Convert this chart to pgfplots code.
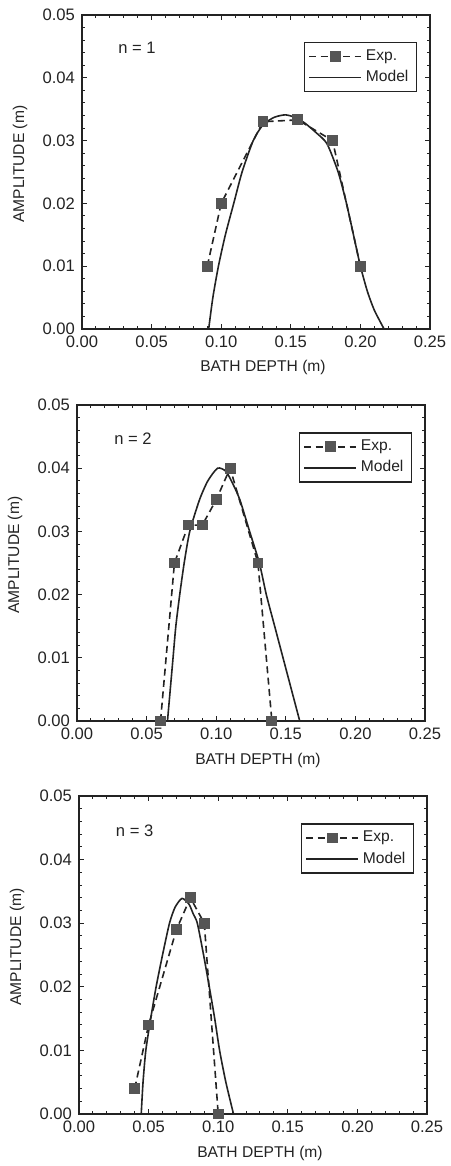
\documentclass[border=0pt]{standalone}
\usepackage{fontspec}
\setmainfont{Liberation Sans}
\usepackage{pgfplots}
\pgfplotsset{compat=1.18}

\definecolor{ink}{RGB}{35,35,35}
\definecolor{markgray}{RGB}{85,85,85}

% one panel style, 1 px of the reference = 0.5pt
\pgfplotsset{
  panel/.style={
    scale only axis,
    anchor=north west,
    width=174pt,
    xmin=0, xmax=0.25, ymin=0, ymax=0.05,
    xtick={0,0.05,...,0.25}, ytick={0,0.01,...,0.05},
    minor x tick num=4, minor y tick num=4,
    tick pos=both, tick align=inside,
    major tick length=2.6pt, minor tick length=1.6pt,
    axis line style={ink, line width=0.7pt},
    every tick/.style={ink, line width=0.5pt},
    scaled ticks=false,
    /pgf/number format/assume math mode=true,
    xticklabel style={/pgf/number format/.cd, fixed, fixed zerofill, precision=2},
    yticklabel style={/pgf/number format/.cd, fixed, fixed zerofill, precision=2},
    tick label style={font=\fontsize{8.3}{9}\selectfont, text=ink},
    xlabel={BATH DEPTH (m)}, ylabel={AMPLITUDE (m)},
    every axis x label/.style={at={(axis description cs:0.52,-0.124)}, anchor=center,
      font=\fontsize{7.8}{9}\selectfont, text=ink},
    every axis y label/.style={at={(axis description cs:-0.178,0.525)}, anchor=center, rotate=90,
      font=\fontsize{7.8}{9}\selectfont, text=ink},
    legend style={at={(axis description cs:0.963,0.914)}, anchor=north east,
      draw=ink, line width=0.7pt, font=\fontsize{7.8}{9}\selectfont, text=ink,
      inner xsep=2pt, inner ysep=1.5pt, row sep=-0.5pt},
    legend cell align=left,
    legend image code/.code={\draw[mark repeat=2,mark phase=2,#1] plot coordinates {(0pt,0pt) (13pt,0pt) (26pt,0pt)};},
  },
  exp/.style={ink, line width=0.8pt, dash pattern=on 3.5pt off 2.2pt,
    mark=square*, mark size=2.3pt, mark options={solid, fill=markgray, draw=markgray}},
  model/.style={ink, line width=0.8pt, smooth, tension=0.4, no marks},
}

\begin{document}
\begin{tikzpicture}

% ---------- n = 1 ----------
\begin{axis}[panel, height=157pt, at={(41pt,-7.5pt)}]
\addplot[exp] coordinates {
  (0.09,0.010) (0.10,0.020) (0.13,0.033) (0.155,0.0333) (0.18,0.030) (0.20,0.010)
};
\addlegendentry{Exp.}
\addplot[model] coordinates {
  (0.091,0) (0.094,0.005) (0.098,0.010) (0.103,0.015) (0.109,0.020) (0.115,0.025)
  (0.123,0.030) (0.130,0.0325) (0.138,0.0337) (0.146,0.0341) (0.153,0.0337)
  (0.160,0.0328) (0.168,0.0313) (0.176,0.0295) (0.184,0.025) (0.190,0.020)
  (0.196,0.014) (0.200,0.010) (0.205,0.006) (0.210,0.003) (0.217,0)
};
\addlegendentry{Model}
\node[font=\fontsize{8.3}{9}\selectfont, text=ink] at (rel axis cs:0.158,0.895) {n = 1};
\end{axis}

% ---------- n = 2 ----------
\begin{axis}[panel, height=158pt, at={(38.5pt,-202.5pt)}]
\addplot[exp] coordinates {
  (0.06,0) (0.07,0.025) (0.08,0.031) (0.09,0.031) (0.10,0.035) (0.11,0.040)
  (0.13,0.025) (0.14,0)
};
\addlegendentry{Exp.}
\addplot[model] coordinates {
  (0.065,0) (0.067,0.005) (0.069,0.010) (0.071,0.015) (0.0738,0.020) (0.077,0.025)
  (0.081,0.030) (0.088,0.035) (0.094,0.038) (0.101,0.040) (0.107,0.0395)
  (0.112,0.0375) (0.117,0.035) (0.124,0.030) (0.131,0.025) (0.136,0.020)
  (0.142,0.015) (0.148,0.010) (0.154,0.005) (0.160,0)
};
\addlegendentry{Model}
\node[font=\fontsize{8.3}{9}\selectfont, text=ink] at (rel axis cs:0.161,0.892) {n = 2};
\end{axis}

% ---------- n = 3 ----------
\begin{axis}[panel, height=159pt, at={(39.5pt,-398pt)}]
\addplot[exp] coordinates {
  (0.04,0.004) (0.05,0.014) (0.07,0.029) (0.08,0.034) (0.09,0.030) (0.10,0)
};
\addlegendentry{Exp.}
\addplot[model] coordinates {
  (0.0447,0) (0.046,0.005) (0.048,0.010) (0.0515,0.015) (0.0554,0.020) (0.060,0.025)
  (0.065,0.030) (0.069,0.0325) (0.074,0.0339) (0.079,0.0330) (0.082,0.0315)
  (0.085,0.030) (0.0895,0.025) (0.0936,0.020) (0.0975,0.015) (0.101,0.010)
  (0.1055,0.005) (0.111,0)
};
\addlegendentry{Model}
\node[font=\fontsize{8.3}{9}\selectfont, text=ink] at (rel axis cs:0.16,0.89) {n = 3};
\end{axis}

\pgfresetboundingbox
\path[use as bounding box] (0,0) rectangle (225pt,-583pt);
\end{tikzpicture}
\end{document}
